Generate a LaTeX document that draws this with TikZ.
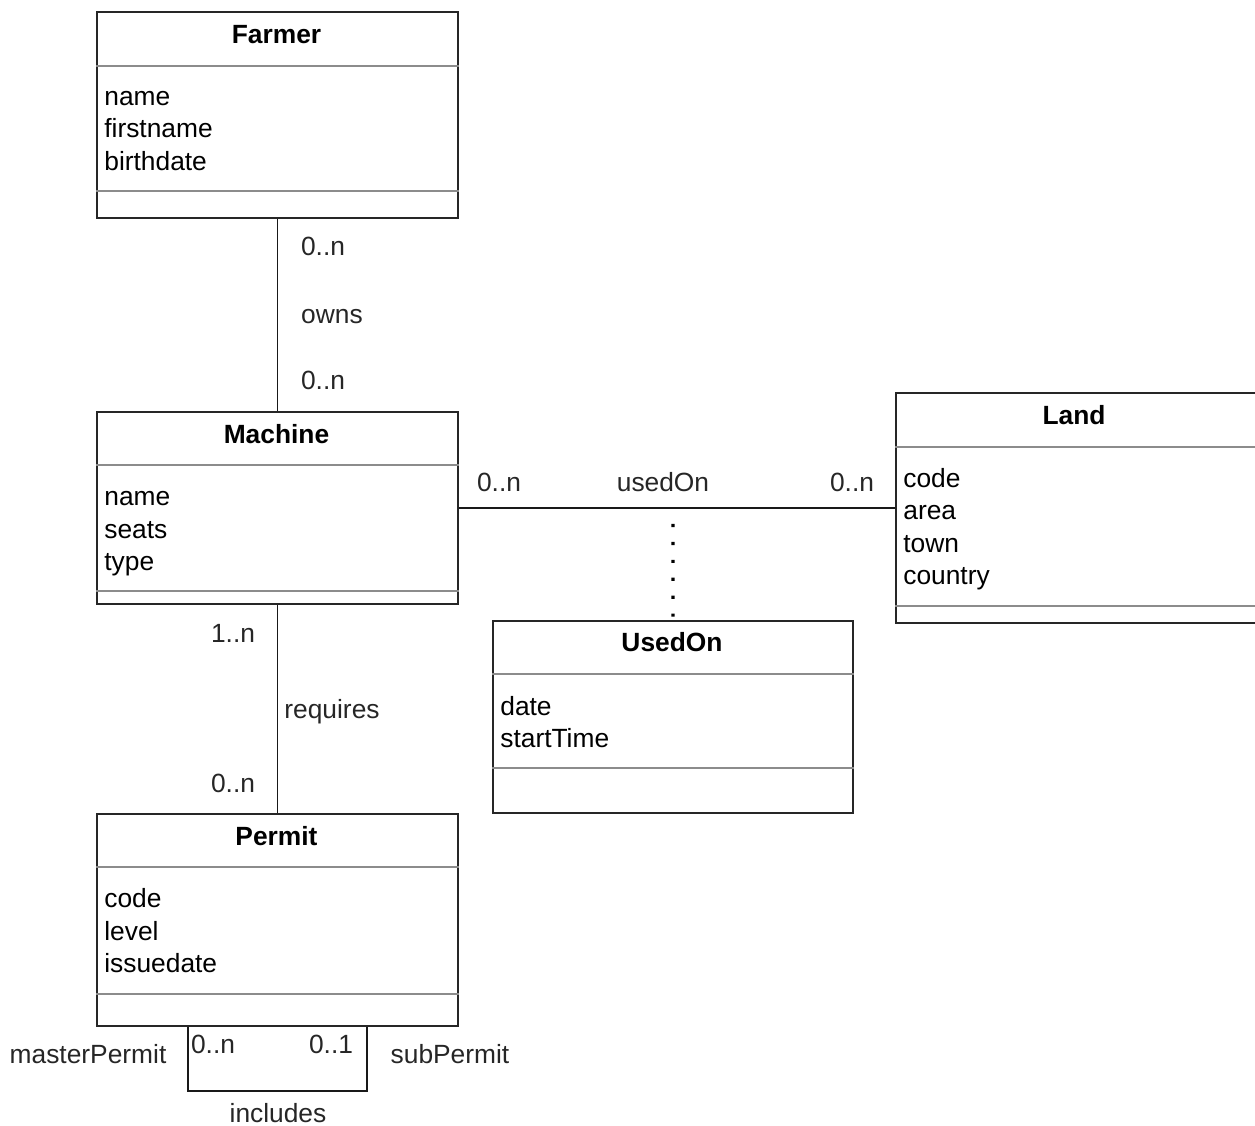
\documentclass[tikz,border=0pt]{standalone}
\usepackage{fontspec}
\setmainfont{Liberation Sans}
\usetikzlibrary{positioning,calc}

\tikzset{
  classbox/.style={draw=black!85,line width=1.1pt,anchor=north west,minimum width=7.22cm,inner sep=0pt},
  classname/.style={font=\bfseries,inner sep=0pt,text height=1.5ex,text depth=.25ex},
  attrlist/.style={align=left,anchor=west,inner sep=0pt},
  seprule/.style={draw=black!45,line width=1pt},
  assoc/.style={draw=black!90,line width=1pt},
  rolelbl/.style={inner sep=0pt,text height=1.5ex,text depth=.25ex,text=black!85},
  linkdots/.style={line width=1.8pt,dash pattern=on 1.8pt off 8.4pt}
}

\begin{document}
\fontsize{15}{18.5}\selectfont
\begin{tikzpicture}[x=0.02cm,y=-0.02cm]
  \useasboundingbox (0,0) rectangle (1255,1126);

  % classes
  \node[classbox,minimum height=4.12cm] (farmer) at (96,11) {};
  \node[classbox,minimum height=3.84cm] (machine) at (96,411) {};
  \node[classbox,minimum height=4.6cm] (land) at (895,392) {};
  \node[classbox,minimum height=3.84cm,minimum width=7.2cm] (usedon) at (492,620) {};
  \node[classbox,minimum height=4.24cm] (permit) at (96,813) {};

  \draw[seprule] ($(farmer.north west)+(0,55)$) -- ($(farmer.north east)+(0,55)$);
  \draw[seprule] ($(farmer.north west)+(0,180)$) -- ($(farmer.north east)+(0,180)$);
  \draw[seprule] ($(machine.north west)+(0,54)$) -- ($(machine.north east)+(0,54)$);
  \draw[seprule] ($(machine.north west)+(0,180)$) -- ($(machine.north east)+(0,180)$);
  \draw[seprule] ($(land.north west)+(0,55)$) -- ($(land.north east)+(0,55)$);
  \draw[seprule] ($(land.north west)+(0,214)$) -- ($(land.north east)+(0,214)$);
  \draw[seprule] ($(usedon.north west)+(0,54)$) -- ($(usedon.north east)+(0,54)$);
  \draw[seprule] ($(usedon.north west)+(0,148)$) -- ($(usedon.north east)+(0,148)$);
  \draw[seprule] ($(permit.north west)+(0,54)$) -- ($(permit.north east)+(0,54)$);
  \draw[seprule] ($(permit.north west)+(0,181)$) -- ($(permit.north east)+(0,181)$);

  \node[classname] (farmerName) at (276.5,35) {Farmer};
  \node[classname] (machineName) at (276.5,435) {Machine};
  \node[classname] (landName) at (1074,416) {Land};
  \node[classname] (usedonName) at (672,643) {UsedOn};
  \node[classname] (permitName) at (276.5,837) {Permit};

  \node[attrlist] (farmerAttr) at (104,131) {name\\firstname\\birthdate};
  \node[attrlist] (machineAttr) at (104,534) {name\\seats\\type};
  \node[attrlist] (landAttr) at (903,529) {code\\area\\town\\country};
  \node[attrlist] (usedonAttr) at (500,722) {date\\startTime};
  \node[attrlist] (permitAttr) at (104,931) {code\\level\\issuedate};

  % associations
  \draw[assoc] (farmer.south) -- (machine.north);
  \draw[assoc] (machine.east) -- (land.west);
  \draw[assoc] (machine.south) -- (permit.north);
  \draw[assoc] ($(permit.south)+(-89.5,0)$) -- ++(0,64) -| ($(permit.south)+(89.5,0)$);
  \coordinate (usedOnMid) at ($(machine.east)!0.491!(land.west)$);
  \draw[linkdots] ([yshift=-0.32cm]usedOnMid) -- (usedon.north);

  % labels
  \node[rolelbl] (ownsTop) at (323,247) {0..n};
  \node[rolelbl] (ownsLbl) at (332,315) {owns};
  \node[rolelbl] (ownsBot) at (323,381) {0..n};
  \node[rolelbl] (usedLeft) at (499,483) {0..n};
  \node[rolelbl] (usedLbl) at (663,483) {usedOn};
  \node[rolelbl] (usedRight) at (852,483) {0..n};
  \node[rolelbl] (reqTop) at (233,634) {1..n};
  \node[rolelbl] (reqLbl) at (332,710) {requires};
  \node[rolelbl] (reqBot) at (233,784) {0..n};
  \node[rolelbl] (masterLbl) at (88,1055) {masterPermit};
  \node[rolelbl] (inclLeft) at (213,1045) {0..n};
  \node[rolelbl] (inclRight) at (331,1045) {0..1};
  \node[rolelbl] (subLbl) at (450,1055) {subPermit};
  \node[rolelbl] (inclLbl) at (278,1114) {includes};
\end{tikzpicture}
\end{document}
